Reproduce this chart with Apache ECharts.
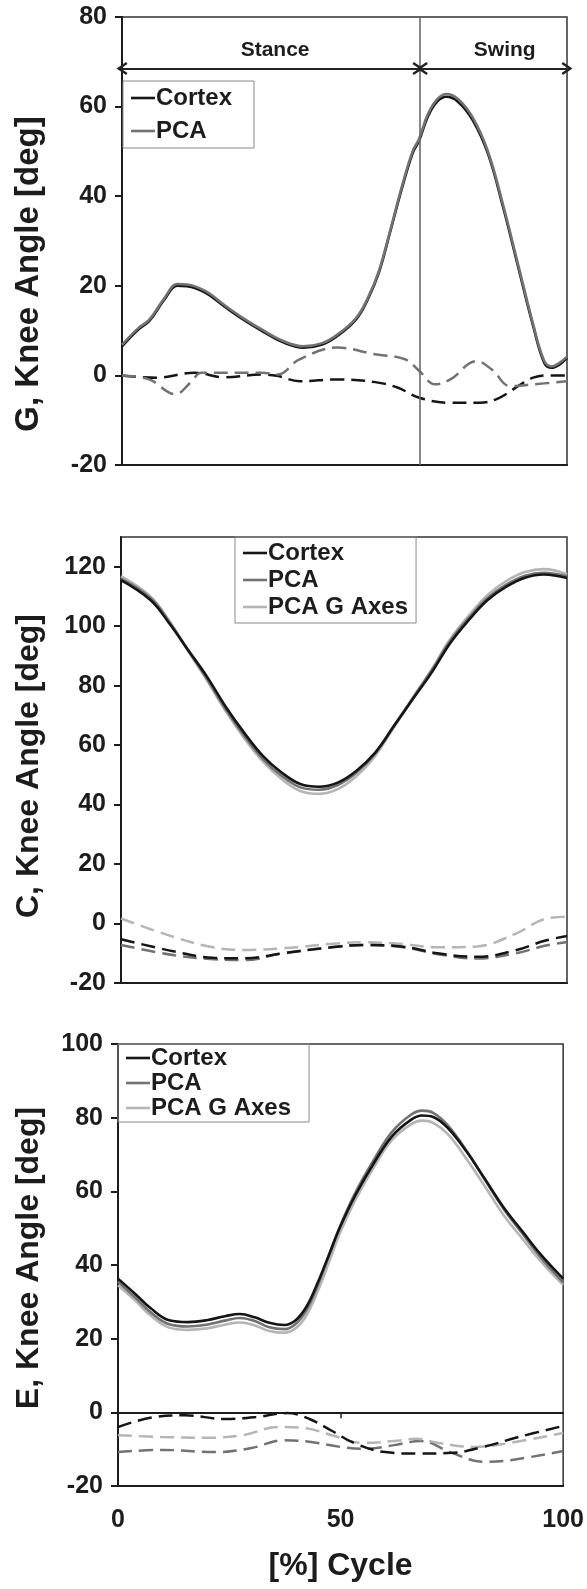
<!DOCTYPE html>
<html><head><meta charset="utf-8">
<script src="https://cdn.jsdelivr.net/npm/echarts@6/dist/echarts.min.js"></script>
<style>
html,body{margin:0;padding:0;background:#fff;}
.p{position:absolute;left:0;width:587px;}
</style>
</head><body>
<div id="p1" class="p" style="top:0;height:490px"></div>
<div id="p2" class="p" style="top:490px;height:510px"></div>
<div id="p3" class="p" style="top:1000px;height:589px"></div>
<script>
// ---------- shared ----------
const X_TICKS = [0, 50, 100];
const PHASE_BOUNDS = [0, 67, 100];
const PHASE_NAMES = ['Stance', 'Swing'];
const PHASE_LABEL_X = [34.4, 86];
const PHASE_LABEL_Y = 72.7;
const PHASE_ARROW_Y = 68.5;

// ---------- Panel G ----------
const G_TICKS = [-20, 0, 20, 40, 60, 80];
const G_SOLID_X = [0,3.6,6.1,9.5,12.4,14.6,18.8,23,27.2,31.5,35.7,40.8,45,48.4,52.6,55.2,57.7,60.2,62.8,65.3,66.8,68.7,70.8,72.9,75.5,78.8,82.2,85.6,89,92.4,94.9,96.6,98.3,100];
const G_CORTEX_Y = [6.5,10.2,12.1,16.9,20,19.9,18.4,15.4,12.5,9.9,7.6,6.2,6.9,8.8,12.5,16.9,22.9,31.8,41.4,49.6,52.5,57.7,61.1,62.2,61.1,57,49.6,37.7,24.3,11,2.8,1.7,2.4,3.9];
const G_PCA_Y    = [6.8,10.5,12.4,17.2,20.4,20.3,18.8,15.7,12.8,10.2,7.9,6.5,7.2,9.1,12.8,17.2,23.2,32.1,41.8,50,52.9,58.2,61.6,62.8,61.7,57.6,50.1,38.2,24.8,11.4,3.2,2,2.8,4.2];
const G_CORTEX_D_X = [0,7.8,16.2,23,31.5,34.9,39.9,48.4,56.9,61.9,66.8,73.8,80.5,84.8,89,92.4,95.8,100];
const G_CORTEX_D_Y = [0,-0.5,0.6,-0.4,0.2,-0.1,-1.3,-0.9,-1.5,-2.7,-5,-6.1,-6.1,-5,-2.4,-0.5,0,0];
const G_PCA_D_X = [0,6.1,12,15.4,17.9,31.5,34.9,39.9,48.4,56.9,63.6,66.8,70.4,73.8,79.7,83.1,87.3,92.4,100];
const G_PCA_D_Y = [0,-0.9,-4.2,-1.6,0.6,0.6,0.2,3.6,6.2,4.7,3.6,1,-2,-0.9,3.2,1.3,-2.4,-2,-1.3];

// ---------- Panel C ----------
const C_TICKS = [-20, 0, 20, 40, 60, 80, 100, 120];
const C_SOLID_X = [0,6.6,10.8,15,19.2,23.4,27.6,31.8,36,40.2,44.4,48.6,52.8,57,61.2,65.4,69.6,73.8,78,82.2,86.4,90.6,94.8,100];
const C_CORTEX_Y = [115.5,108.8,101,92.1,83.2,73.1,64.2,56.4,50.8,46.9,46,47.4,51.4,57.5,66.4,75.4,84.3,94.3,102.1,108.8,113.3,116.3,117.4,116.2];
const C_PCA_Y    = [116,109.5,101.5,92,82.5,72.3,63.2,55.4,49.7,45.8,45,46.6,50.8,57.2,66.5,75.8,85,95,102.8,109.5,114,117,118,116.8];
const C_GAX_Y    = [116.8,110,101.8,91.8,82,71.6,62.4,54.5,48.6,44.6,43.6,45.2,49.6,56.4,66,75.8,85.3,95.6,103.6,110.5,115.2,118.2,119.2,117.5];
const C_DASH_X = [0,12,20.7,27.7,36.3,46.8,54.6,63.3,71,79.8,88.5,95,100];
const C_CORTEX_D_Y = [-5.3,-9.4,-11.5,-11.7,-10,-8.1,-7.2,-7.8,-10,-11.2,-9,-5.8,-4.2];
const C_PCA_D_Y    = [-7.2,-10.7,-12,-12.3,-10,-8,-7.2,-8,-10.3,-11.8,-10,-7.5,-6.2];
const C_GAX_D_Y    = [1.7,-4.6,-8,-8.9,-8.3,-6.9,-6.3,-6.9,-8,-7.7,-3.4,1.5,2.3];

// ---------- Panel E ----------
const E_TICKS = [-20, 0, 20, 40, 60, 80, 100];
const E_SOLID_X = [0,4,7.3,11.5,15.7,19.9,24,27.4,30.7,34,37.4,39.9,42.4,44.9,47.4,49.9,53.3,57.4,61.6,65.8,68.3,70.8,74.1,78.3,82.5,86.6,90.8,95,100];
const E_CORTEX_Y = [36.3,32,28.3,25,24.5,25,26.1,26.7,25.8,24.3,23.7,25,28.8,35.3,42.8,50.3,58.9,67.5,75,79.4,80.6,80.2,77.2,70.8,63.2,55.7,49.2,42.8,36.3];
const E_PCA_Y    = [35.5,31,27.2,23.9,23.3,23.8,24.9,25.6,24.8,23.1,22.6,24,27.9,34.6,42.6,50.6,59.6,68.4,76.2,80.8,81.9,81.3,77.9,71,63,55.3,48.6,42,35.3];
const E_GAX_Y    = [34.5,30.2,26.3,23,22.4,22.8,23.8,24.4,23.6,22.1,21.6,22.8,26.5,33,40.8,48.8,57.6,66.4,74,78.2,79.2,78.6,75.5,68.8,61.2,53.6,47.2,41,34.6];
const E_CORTEX_D_X = [0,8,15,24,31,38,43,48,53,60,67,75,82,90,100];
const E_CORTEX_D_Y = [-4,-1.3,-0.8,-1.8,-1.3,-0.2,-1.8,-5,-8.3,-10.8,-11.2,-11,-9.4,-6.7,-3.7];
const E_GAX_D_X = [0,10,20,28,36,42,48,55,62,67,72,80,88,100];
const E_GAX_D_Y = [-6.2,-6.7,-6.9,-6.2,-4,-4.3,-6.2,-8.3,-7.8,-7.2,-8.3,-9.4,-8.3,-5.6];
const E_PCA_D_X = [0,10,22,30,37,43,50,56,62,68,75,82,88,100];
const E_PCA_D_Y = [-10.8,-10.2,-10.8,-9.7,-7.6,-8,-9.4,-9.9,-8.9,-7.8,-11,-13.4,-13,-10.5];

// ---------- styling / helpers ----------
const FONT = '"Liberation Sans", Arial, sans-serif';
const INK = '#1c1c1c';
const COL = { Cortex: '#151515', PCA: '#727272', 'PCA G Axes': '#b5b5b5' };
const zip = (xs, ys) => xs.map((x, i) => [x, ys[i]]);

function solid(name, xs, ys, z) {
  return { type: 'line', name, data: zip(xs, ys), symbol: 'none', smooth: 0.4,
    lineStyle: { color: COL[name], width: 2.6 }, itemStyle: { color: COL[name] }, z: z || 3 };
}
function dashed(name, xs, ys) {
  return { type: 'line', name, data: zip(xs, ys), symbol: 'none', smooth: 0.4,
    lineStyle: { color: COL[name], width: 2.5, type: [14, 7] }, itemStyle: { color: COL[name] }, z: 2 };
}
function yAxis(min, max, ticks) {
  return { type: 'value', min, max, interval: 20,
    axisLine: { show: true, onZero: false, lineStyle: { color: INK, width: 2 } },
    axisTick: { show: true, inside: false, length: 7, lineStyle: { color: INK, width: 2 }, customValues: ticks },
    axisLabel: { customValues: ticks, fontFamily: FONT, fontWeight: 'bold', fontSize: 25, color: INK, margin: 15 },
    splitLine: { show: false } };
}
function xAxisPlain() {
  return { type: 'value', min: 0, max: 100, interval: 50, position: 'bottom',
    axisLine: { show: true, onZero: false, lineStyle: { color: INK, width: 2 } },
    axisTick: { show: false }, axisLabel: { show: false }, splitLine: { show: false } };
}
function legend(left, top, names, gap, pad) {
  return { left, top, orient: 'vertical', itemWidth: 24, itemHeight: 10, itemGap: gap,
    padding: pad, borderColor: '#8a8a8a', borderWidth: 1, borderRadius: 0, selectedMode: false,
    data: names.map(n => ({ name: n, icon: 'path://M0,4 L24,4 L24,6.6 L0,6.6 Z', itemStyle: { color: COL[n] } })),
    textStyle: { fontFamily: FONT, fontWeight: 'bold', fontSize: 24, lineHeight: 24, color: INK, padding: [0, 0, 0, -4] } };
}
function yTitle(text, x, y, fs) {
  return { type: 'text', x, y, rotation: Math.PI / 2,
    style: { text, font: 'bold ' + fs + 'px ' + FONT, fill: INK, textAlign: 'center', textVerticalAlign: 'middle' } };
}
const GRID_STYLE = { show: true, borderColor: '#333', borderWidth: 1.5 };
const CHEVRON = 'path://M5,0 L10,7.5 L8.4,8.6 L5,3.4 L1.6,8.6 L0,7.5 Z';

// ---------- Panel 1 ----------
const c1 = echarts.init(document.getElementById('p1'), null, { renderer: 'canvas' });
const GAP = 0.5;
const phaseLines = PHASE_NAMES.map((nm, i) => [
  { coord: [PHASE_BOUNDS[i] + (i ? GAP : 0), PHASE_ARROW_Y] },
  { coord: [PHASE_BOUNDS[i + 1] - (i ? 0 : GAP), PHASE_ARROW_Y] }
]);
c1.setOption({
  animation: false,
  grid: Object.assign({ left: 122, right: 20, top: 17, height: 448 }, GRID_STYLE),
  xAxis: xAxisPlain(),
  yAxis: yAxis(-20, 80, G_TICKS),
  legend: legend(123, 81, ['Cortex', 'PCA'], 9, [5, 22, 5, 8]),
  graphic: [yTitle('G, Knee Angle [deg]', 29, 274, 33)],
  series: [
    dashed('Cortex', G_CORTEX_D_X, G_CORTEX_D_Y),
    dashed('PCA', G_PCA_D_X, G_PCA_D_Y),
    solid('Cortex', G_SOLID_X, G_CORTEX_Y, 3),
    Object.assign(solid('PCA', G_SOLID_X, G_PCA_Y, 4), {
      markLine: {
        silent: true, symbol: 'none', animation: false,
        lineStyle: { color: '#6a6a6a', width: 1.6, type: 'solid' },
        label: { show: false },
        data: [{ xAxis: PHASE_BOUNDS[1] }]
      }
    }),
    { type: 'line', name: 'phases', data: [], z: 5,
      markLine: {
        silent: true, animation: false, symbol: [CHEVRON, CHEVRON], symbolSize: [13, 11],
        lineStyle: { color: '#222', width: 2.2, type: 'solid' },
        label: { show: false },
        data: phaseLines
      },
      markPoint: {
        silent: true, animation: false, symbol: 'circle', symbolSize: 0,
        label: { show: true, position: 'inside', formatter: p => p.name,
          fontFamily: FONT, fontWeight: 'bold', fontSize: 21, color: INK },
        data: PHASE_NAMES.map((nm, i) => ({ name: nm, coord: [PHASE_LABEL_X[i], PHASE_LABEL_Y] }))
      } }
  ]
});

// ---------- Panel 2 ----------
const c2 = echarts.init(document.getElementById('p2'), null, { renderer: 'canvas' });
c2.setOption({
  animation: false,
  grid: Object.assign({ left: 121, right: 20, top: 47, height: 446 }, GRID_STYLE),
  xAxis: xAxisPlain(),
  yAxis: yAxis(-20, 130, C_TICKS),
  legend: legend(235, 47, ['Cortex', 'PCA', 'PCA G Axes'], 3, [4, 8, 4, 8]),
  graphic: [yTitle('C, Knee Angle [deg]', 29, 276, 32)],
  series: [
    dashed('PCA G Axes', C_DASH_X, C_GAX_D_Y),
    dashed('PCA', C_DASH_X, C_PCA_D_Y),
    dashed('Cortex', C_DASH_X, C_CORTEX_D_Y),
    solid('PCA G Axes', C_SOLID_X, C_GAX_Y, 3),
    solid('PCA', C_SOLID_X, C_PCA_Y, 4),
    solid('Cortex', C_SOLID_X, C_CORTEX_Y, 5)
  ]
});

// ---------- Panel 3 ----------
const c3 = echarts.init(document.getElementById('p3'), null, { renderer: 'canvas' });
c3.setOption({
  animation: false,
  grid: Object.assign({ left: 118, right: 20, top: 44, height: 442 }, GRID_STYLE),
  xAxis: [
    { type: 'value', min: 0, max: 100, interval: 50, position: 'bottom',
      axisLine: { show: true, onZero: false, lineStyle: { color: INK, width: 2 } },
      axisTick: { show: false },
      axisLabel: { customValues: X_TICKS, fontFamily: FONT, fontWeight: 'bold', fontSize: 25, color: INK, margin: 22 },
      name: '[%] Cycle', nameLocation: 'middle', nameGap: 64,
      nameTextStyle: { fontFamily: FONT, fontWeight: 'bold', fontSize: 32, color: INK },
      splitLine: { show: false } },
    { type: 'value', min: 0, max: 100, interval: 50, position: 'bottom',
      axisLine: { show: true, onZero: true, lineStyle: { color: INK, width: 1.8 } },
      axisTick: { show: true, inside: false, length: 6, customValues: [50], lineStyle: { color: INK, width: 1.5 } },
      axisLabel: { show: false }, splitLine: { show: false } }
  ],
  yAxis: yAxis(-20, 100, E_TICKS),
  legend: legend(118, 44, ['Cortex', 'PCA', 'PCA G Axes'], 1, [2, 18, 2, 8]),
  graphic: [yTitle('E, Knee Angle [deg]', 29, 258, 32)],
  series: [
    dashed('PCA', E_PCA_D_X, E_PCA_D_Y),
    dashed('PCA G Axes', E_GAX_D_X, E_GAX_D_Y),
    dashed('Cortex', E_CORTEX_D_X, E_CORTEX_D_Y),
    solid('PCA G Axes', E_SOLID_X, E_GAX_Y, 3),
    solid('PCA', E_SOLID_X, E_PCA_Y, 4),
    solid('Cortex', E_SOLID_X, E_CORTEX_Y, 5)
  ]
});
</script>
</body></html>
